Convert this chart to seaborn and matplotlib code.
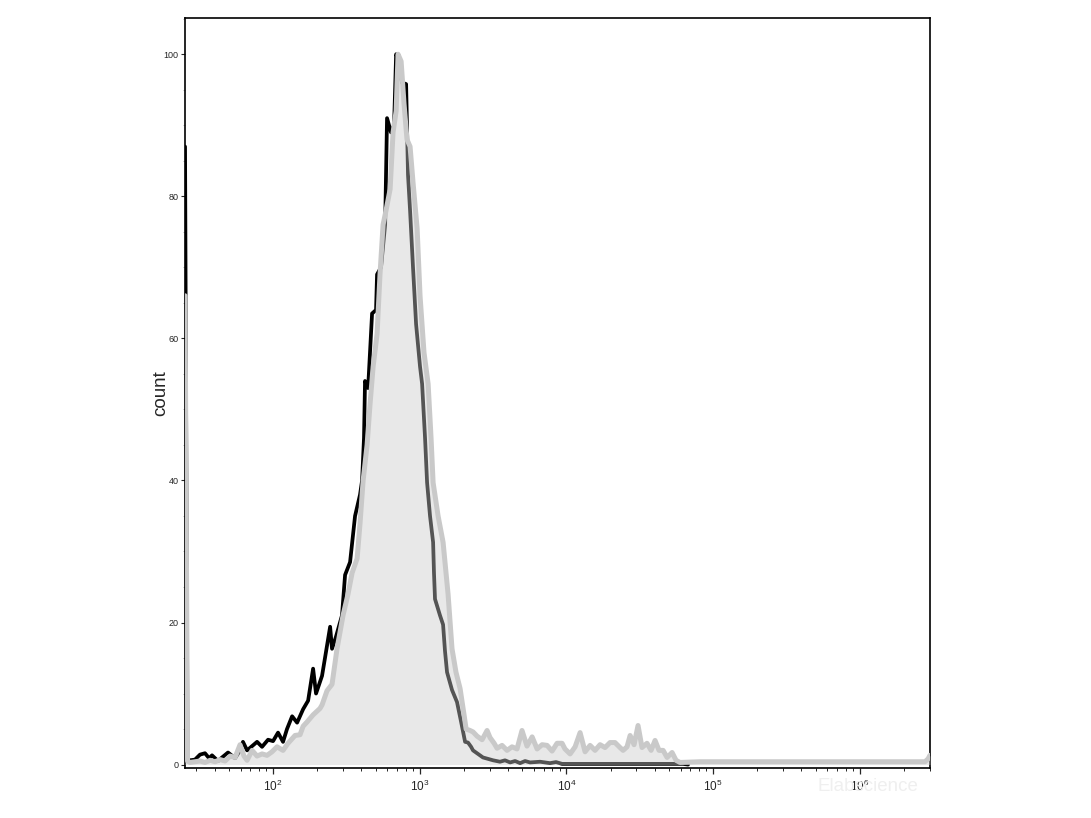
import numpy as np
import pandas as pd
import matplotlib
matplotlib.use("Agg")
import matplotlib.pyplot as plt
import seaborn as sns
from matplotlib.ticker import FixedLocator, MultipleLocator

# control trace (black line), x in log10 fluorescence
control_log = [1.400, 1.417, 1.434, 1.468, 1.502, 1.536, 1.564, 1.584, 1.625, 1.652,
               1.693, 1.741, 1.775, 1.795, 1.823, 1.857, 1.891, 1.925, 1.966, 2.000,
               2.034, 2.068, 2.095, 2.130, 2.164, 2.205, 2.239, 2.273, 2.293, 2.334,
               2.354, 2.389, 2.402, 2.429, 2.470, 2.491, 2.525, 2.559, 2.593, 2.607,
               2.620, 2.627, 2.648, 2.675, 2.702, 2.709, 2.736, 2.764, 2.777, 2.804,
               2.825, 2.839, 2.859, 2.879, 2.907, 2.920, 2.934, 2.954, 2.975, 3.002,
               3.016, 3.036, 3.050, 3.070, 3.091, 3.097, 3.104, 3.138, 3.159, 3.172,
               3.186, 3.220, 3.254, 3.282, 3.309, 3.329, 3.350, 3.363, 3.397, 3.431,
               3.466, 3.500, 3.547, 3.581, 3.616, 3.650, 3.684, 3.718, 3.752, 3.820,
               3.888, 3.929, 3.970, 4.365, 4.795, 4.829]
control_count = [87.0, 0.8, 0.6, 0.7, 1.4, 1.6, 0.9, 1.3, 0.5, 1.0,
                 1.7, 0.9, 2.0, 3.2, 2.0, 2.6, 3.2, 2.5, 3.5, 3.3,
                 4.5, 3.2, 5.0, 6.8, 5.9, 7.8, 9.0, 13.5, 10.0, 12.5,
                 15.0, 19.4, 16.3, 18.0, 21.0, 26.7, 28.5, 35.0, 38.0, 40.0,
                 46.0, 54.0, 53.0, 63.5, 64.0, 69.0, 70.0, 76.0, 91.0, 89.0,
                 90.0, 100.0, 99.0, 96.0, 95.8, 83.0, 78.0, 70.0, 62.0, 56.0,
                 53.6, 46.0, 39.7, 35.0, 31.3, 27.0, 23.3, 21.0, 19.7, 16.0,
                 13.0, 10.5, 8.8, 6.0, 3.2, 3.1, 2.5, 2.0, 1.5, 1.0,
                 0.8, 0.6, 0.4, 0.6, 0.3, 0.5, 0.2, 0.5, 0.3, 0.4,
                 0.2, 0.35, 0.1, 0.1, 0.1, 0.0]

# stained sample (filled light grey)
sample_log = [1.400, 1.417, 1.434, 1.468, 1.502, 1.536, 1.571, 1.605, 1.639, 1.673,
              1.707, 1.741, 1.775, 1.802, 1.823, 1.857, 1.891, 1.925, 1.959, 1.993,
              2.027, 2.068, 2.102, 2.150, 2.184, 2.205, 2.232, 2.273, 2.320, 2.334,
              2.368, 2.402, 2.436, 2.477, 2.511, 2.539, 2.573, 2.593, 2.614, 2.641,
              2.661, 2.682, 2.709, 2.729, 2.750, 2.770, 2.798, 2.818, 2.839, 2.852,
              2.873, 2.893, 2.913, 2.934, 2.954, 2.982, 3.002, 3.029, 3.057, 3.077,
              3.091, 3.125, 3.159, 3.179, 3.193, 3.207, 3.220, 3.247, 3.275, 3.302,
              3.316, 3.343, 3.363, 3.391, 3.425, 3.459, 3.479, 3.507, 3.527, 3.561,
              3.595, 3.629, 3.663, 3.697, 3.731, 3.766, 3.800, 3.834, 3.868, 3.902,
              3.936, 3.970, 3.990, 4.025, 4.059, 4.093, 4.127, 4.161, 4.195, 4.229,
              4.263, 4.297, 4.331, 4.365, 4.386, 4.413, 4.434, 4.461, 4.488, 4.515,
              4.549, 4.577, 4.604, 4.631, 4.659, 4.686, 4.720, 4.747, 4.774, 4.911,
              5.592, 6.444, 6.465, 6.478]
sample_count = [66.0, 0.5, 0.3, 0.4, 0.5, 0.3, 0.6, 0.4, 0.7, 0.5,
                1.2, 1.0, 2.8, 1.2, 0.6, 2.0, 1.2, 1.5, 1.3, 1.8,
                2.5, 2.0, 3.0, 4.1, 4.2, 5.4, 6.0, 7.0, 7.9, 8.4,
                10.4, 11.3, 16.3, 21.0, 24.0, 27.0, 29.0, 34.0, 40.0, 45.0,
                50.7, 56.0, 60.6, 69.0, 76.0, 78.0, 81.0, 89.0, 92.0, 100.0,
                99.0, 93.0, 88.0, 87.0, 82.0, 75.5, 66.0, 58.0, 53.6, 46.0,
                39.7, 35.0, 31.3, 27.0, 24.0, 20.0, 16.3, 13.0, 10.7, 7.0,
                5.0, 4.8, 4.6, 4.0, 3.5, 4.8, 3.8, 3.0, 2.3, 2.7,
                2.0, 2.5, 2.2, 4.8, 2.6, 3.9, 2.2, 2.8, 2.7, 1.9,
                3.0, 3.0, 2.2, 1.5, 2.5, 4.5, 1.8, 2.7, 2.0, 2.8,
                2.4, 3.1, 3.1, 2.4, 2.0, 2.5, 4.1, 2.8, 5.5, 2.4,
                3.0, 2.0, 3.4, 2.0, 2.0, 1.0, 1.7, 0.6, 0.3, 0.4,
                0.4, 0.4, 0.8, 1.3]

decades = [2, 3, 4, 5, 6]
y_ticks = [0, 20, 40, 60, 80, 100]

control = pd.DataFrame({"log_fl": control_log, "count": control_count})
sample = pd.DataFrame({"log_fl": sample_log, "count": sample_count})

sns.set_style("white")
plt.rcParams["font.family"] = ["Liberation Sans", "DejaVu Sans"]
plt.rcParams["mathtext.fontset"] = "custom"
plt.rcParams["mathtext.rm"] = "Liberation Sans"
plt.rcParams["mathtext.it"] = "Liberation Sans"

fig = plt.figure(figsize=(10.91, 8.18), dpi=100)
ax = fig.add_axes([0.1696, 0.0614, 0.6828, 0.9166])

grey = "#c9c9c9"
sns.lineplot(data=control, x="log_fl", y="count", ax=ax, color="black",
             lw=2.7, sort=False, estimator=None, zorder=2)
ax.fill_between(sample["log_fl"], 0, sample["count"], color=grey,
                alpha=0.42, lw=0, zorder=3)
sns.lineplot(data=sample, x="log_fl", y="count", ax=ax, color=grey,
             lw=3.6, sort=False, estimator=None, zorder=4)

ax.set_xlim(1.400, 6.478)
ax.set_ylim(-0.45, 105.1)

minor_x = [d + np.log10(k) for d in range(1, 7) for k in range(2, 10)]
ax.xaxis.set_major_locator(FixedLocator(decades))
ax.xaxis.set_minor_locator(FixedLocator(minor_x))
ax.set_xticklabels([f"$10^{{{d}}}$" for d in decades])
ax.yaxis.set_major_locator(FixedLocator(y_ticks))
ax.yaxis.set_minor_locator(MultipleLocator(5))
ax.set_yticklabels([str(v) for v in y_ticks])

ax.tick_params(axis="x", which="major", direction="out", length=4, width=0.9,
               labelsize=8.5, pad=4, bottom=True)
ax.tick_params(axis="x", which="minor", direction="out", length=2.2, width=0.7,
               bottom=True)
ax.tick_params(axis="y", which="major", direction="out", length=3, width=0.8,
               labelsize=6.5, pad=1.5, left=True)
ax.tick_params(axis="y", which="minor", direction="out", length=1.6, width=0.5,
               color="#999999", left=True)

for s in ax.spines.values():
    s.set_visible(True)
    s.set_color("black")
    s.set_linewidth(1.2)

ax.set_xlabel("")
ax.set_ylabel("count", fontsize=13.5, labelpad=-4)

fig.text(0.796, 0.038, "Elabscience", color="#efefef", fontsize=13.5,
         ha="center", va="center")

fig.savefig("out.png", dpi=100)
